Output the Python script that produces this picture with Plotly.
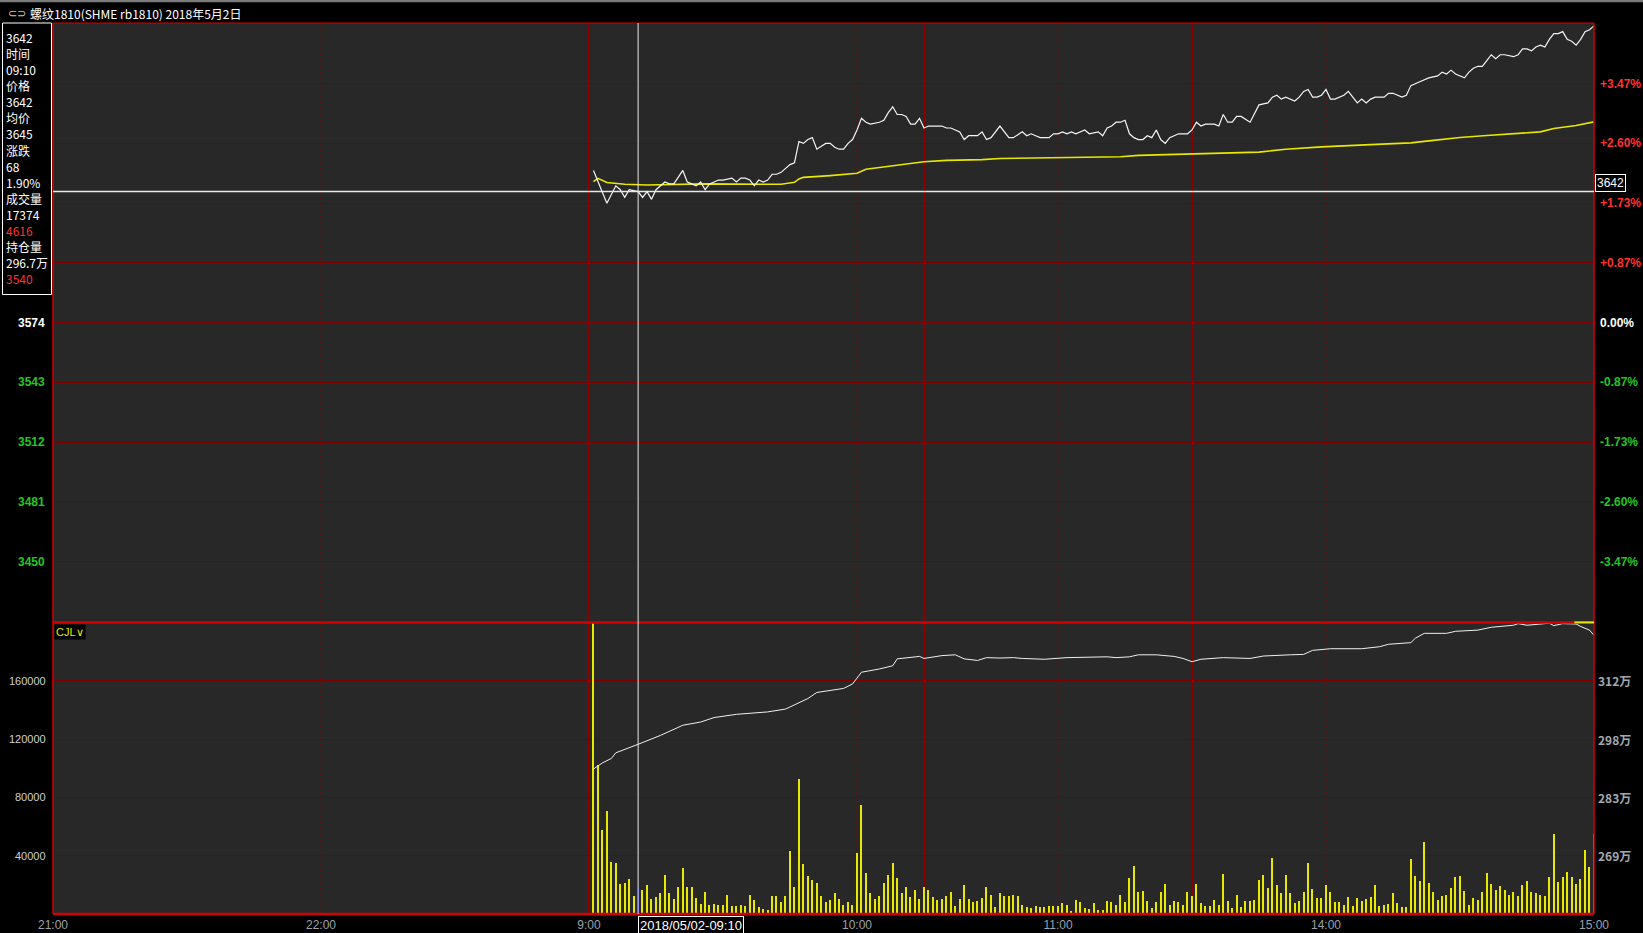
import plotly.graph_objects as go

# ---------------- data ----------------
TITLE_ICON = "⊂⊃"
TITLE_TEXT = "螺纹1810(SHME rb1810) 2018年5月2日"
CURSOR_TEXT = "2018/05/02-09:10"
PREV_SETTLE = 3574
DAY_START = 120          # 9:00 on a minute axis that starts at 21:00
CURSOR_MIN = 11          # 9:10 bar
CURSOR_PRICE = 3642

# last price (minute index after 9:00, price)
price_min = [1, 4, 6, 7, 8, 9, 11, 12, 13, 14, 15, 16, 17, 18, 19, 21, 22, 23, 24, 25, 26, 27, 28, 29, 30,
             32, 33, 34, 35, 36, 37, 38, 39, 40, 41, 42, 43, 44, 45, 46, 47, 48, 49, 50, 51,
             53, 54, 55, 56, 57, 58, 59, 60, 61, 62, 63, 65, 66, 67, 68, 69, 70, 71, 72, 73, 74, 75,
             76, 79, 80, 81, 82, 83, 84, 85, 87, 88, 89, 90, 92, 94, 95, 97, 98, 99, 100, 101,
             103, 104, 105, 106, 107, 108, 109, 111, 112, 114, 115, 116, 117, 118, 119, 120, 121, 122,
             123, 124, 125, 126, 127, 128, 129, 130, 132, 134, 135,
             136, 137, 138, 140, 141, 142, 143, 144, 145, 146, 148, 150, 152, 153, 154, 155, 156,
             158, 159, 160, 161, 162, 163, 164, 165, 166, 167, 169, 170, 171, 172, 173, 174, 175, 176,
             178, 179, 180, 182, 183, 184, 186, 187, 188, 190, 191, 192, 193, 194,
             196, 197, 198, 199, 200, 201, 202, 203, 204, 205,
             207, 208, 209, 210, 211, 212, 213, 214, 215, 216, 217, 218, 219, 220, 221, 222, 223, 224, 225]
price_val = [3653, 3636, 3645, 3643, 3639, 3643, 3642, 3639, 3642, 3638, 3643, 3645, 3647, 3646, 3646,
             3653, 3647, 3646, 3645, 3647, 3643, 3646, 3647, 3648, 3648,
             3649, 3647, 3649, 3649, 3648, 3645, 3648, 3647, 3648, 3651, 3651, 3652, 3654, 3656, 3657,
             3668, 3667, 3669, 3670, 3664,
             3667, 3667, 3665, 3664, 3664, 3667, 3669, 3674, 3680, 3678, 3677,
             3678, 3679, 3683, 3686, 3682, 3682, 3681, 3677, 3677, 3680, 3675,
             3676, 3676, 3675, 3675, 3674, 3673, 3669, 3671, 3671, 3673, 3669, 3670, 3676, 3670, 3670,
             3673, 3671, 3672, 3671, 3670,
             3670, 3672, 3672, 3673, 3672, 3673, 3672, 3674, 3672,
             3673, 3671, 3675, 3676, 3678, 3678, 3679, 3672, 3670, 3669, 3669, 3671, 3670, 3674, 3669,
             3667, 3670, 3672, 3672, 3674,
             3678, 3676, 3677, 3677, 3676, 3682, 3678, 3678, 3681, 3681, 3678, 3687,
             3688, 3691, 3692, 3690, 3691,
             3689, 3691, 3694, 3695, 3691, 3691, 3692, 3695, 3690, 3690,
             3692, 3694, 3691, 3688, 3690, 3688, 3690, 3691,
             3691, 3693, 3693, 3691, 3692, 3697, 3699, 3700, 3701,
             3702, 3704, 3703, 3705, 3703,
             3701, 3704, 3706, 3707, 3707, 3710, 3713, 3711, 3713, 3713,
             3712, 3713, 3716, 3716, 3715, 3717, 3718, 3717, 3721, 3724, 3724, 3725, 3721, 3720, 3718,
             3721, 3725, 3726, 3728]

# average price
avg_min = [1, 2, 4, 8, 13, 21, 26, 43, 46, 47, 48, 54, 60, 62, 66, 71, 75, 80, 88, 92,
           105, 119, 123, 133, 142, 148, 150, 156, 164, 175, 184, 188, 195, 201, 207, 213, 216, 221, 225]
avg_val = [3647.2, 3648.9, 3646.7, 3645.8, 3645.4, 3645.8, 3646.0, 3645.8, 3646.8, 3648.6,
           3649.4, 3650.3, 3651.5, 3653.6, 3654.9, 3656.3, 3657.5, 3658.2, 3658.6, 3659.2,
           3659.8, 3660.1, 3660.8, 3661.5, 3661.8, 3662.3, 3662.5, 3664.0, 3665.2, 3666.4,
           3667.3, 3668.3, 3670.1, 3671.1, 3672.1, 3673.0, 3674.7, 3676.3, 3678.2]

# open interest (万)
oi_min = [1, 3, 5, 6, 11, 16, 21, 25, 28, 33, 40, 44, 49, 51, 57, 59, 61, 65, 68, 69,
          74, 75, 79, 82, 84, 87, 89, 92, 95, 97, 102, 107, 116, 118, 121, 123, 127, 131, 133, 135,
          137, 141, 142, 148, 151, 157, 160, 162, 166, 173, 177, 179, 184, 185, 187, 192, 194, 199, 202, 207,
          208, 210, 214, 215, 216, 218, 221, 222, 224, 225]
oi_val = [290.4, 291.9, 293.0, 294.4, 296.5, 298.7, 301.2, 302.0, 303.1, 303.9,
          304.5, 305.2, 307.8, 309.3, 310.3, 311.4, 314.3, 315.1, 315.9, 317.6,
          318.2, 317.7, 318.4, 318.6, 317.6, 317.2, 317.9, 317.8, 317.9, 317.7,
          317.5, 317.9, 318.1, 317.9, 318.1, 318.6, 318.6, 318.2, 317.7, 316.9,
          317.5, 317.7, 317.9, 317.7, 318.3, 318.6, 318.7, 319.7, 320.1, 320.1,
          320.6, 321.2, 321.6, 322.7, 323.9, 323.9, 324.4, 324.7, 325.4, 325.9,
          326.3, 325.9, 326.2, 326.4, 325.8, 326.3, 326.2, 325.6, 324.7, 323.4]

# volume per minute bar, minutes 1..225 after 9:00
volume = [200000, 101600, 57500, 70600, 35400, 34500, 20000, 20700, 23400, 12000,
          17374, 15900, 19300, 9700, 11500, 14300, 26200, 14300, 9700, 18400,
          31500, 18400, 18400, 10800, 6700, 14900, 6200, 6900, 5700, 6200,
          13100, 5500, 5100, 6200, 5500, 13100, 9000, 4600, 3200, 2800,
          12000, 12400, 7800, 12000, 43000, 18200, 92400, 33800, 25700, 22800,
          21200, 12000, 7800, 9000, 14300, 10300, 6200, 8300, 6200, 41800,
          74500, 27600, 14300, 10300, 12400, 20700, 26200, 34500, 24100, 14300,
          18200, 11300, 15900, 9700, 18200, 15900, 11500, 9000, 9700, 12400,
          14900, 5100, 9700, 19300, 10300, 7800, 8500,
          10600, 18500, 13100, 4300, 13800, 12000, 12000, 13100, 11800, 5700,
          4300, 3600, 5000, 4300, 4300, 5000, 5000, 5000, 7000, 5700,
          1600, 9000, 7700, 3600, 2900, 7000, 2300, 2300, 8400, 7700,
          5700, 13100, 7700, 24200, 32800, 14500, 15800, 8400, 3600, 7700,
          14500, 20600, 5700, 8400, 7700, 5700, 15100, 11800, 20600, 7000,
          5000, 5000, 9000, 5700, 27300, 8400, 3600, 13100, 4300, 8400,
          8400, 9000, 23300, 26700, 17900, 38200, 19900, 13800, 26700, 13800,
          7000, 8400, 14500, 34800, 17200, 10400, 10400, 19900, 15100, 7700,
          7700, 5700, 11100, 5000, 10400, 8400, 9700, 11100, 19900, 5000,
          5700, 6300, 13800, 7000, 4300, 4300, 37500, 26000, 22600, 49000,
          21200, 14500, 9000, 11800, 13100, 17900, 25300, 26000, 15800, 5700,
          10400, 9000, 15100, 28000, 20600, 16500, 19200, 16500, 13100, 14500,
          12400, 19900, 22600, 14500, 13800, 13100, 12400, 25300, 54500, 21900,
          25300, 28700, 25300, 20600, 24000, 43600, 32100, 54500]

time_tick_vals = [0, 60, 120, 180, 225, 285, 345]
time_tick_text = ["21:00", "22:00", "9:00", "10:00", "11:00", "14:00", "15:00"]
session_lines = [120, 195, 255]
hour_lines = [60, 180, 225, 285]

price_grid = [3450, 3481, 3512, 3543, 3574, 3605, 3636, 3667, 3698]
price_left_text = ["3450", "3481", "3512", "3543", "3574"]
pct_text = ["-3.47%", "-2.60%", "-1.73%", "-0.87%", "0.00%", "+0.87%", "+1.73%", "+2.60%", "+3.47%"]
vol_grid = [40000, 80000, 120000, 160000]
vol_text = ["40000", "80000", "120000", "160000"]
oi_grid = [269.0, 283.4, 297.8, 312.2]
oi_text = ["269万", "283万", "298万", "312万"]

info_lines = ["3642", "时间", "09:10", "价格", "3642", "均价", "3645", "涨跌", "68", "1.90%",
              "成交量", "17374", "4616", "持仓量", "296.7万", "3540"]
info_red = {"4616", "3540"}

assert len(price_min) == len(price_val)
assert len(avg_min) == len(avg_val)
assert len(oi_min) == len(oi_val)
assert len(volume) == 225

# ---------------- layout constants ----------------
W, H = 1643, 933
L, R, T, B = 53, 49, 23, 19
PW, PH = W - L - R, H - T - B
VOL_TOP = (H - B - 622.4) / PH

def px(x):
    return (x - L) / PW

def py(y):
    return (H - B - y) / PH

BG = "#282828"
GRID = "#7c0000"
BORDER = "#d40000"
YELLOW = "#e8e800"
GREEN = "#22c522"
RED = "#ff3232"
FONT = "Liberation Sans"
CJK = "Noto Sans CJK SC"

fig = go.Figure()

bar_x = [DAY_START + m for m in range(1, len(volume) + 1)]
bar_colors = ["#1a1aff" if m == CURSOR_MIN else YELLOW for m in range(1, len(volume) + 1)]
fig.add_trace(go.Bar(x=bar_x, y=volume, width=0.28, marker=dict(color=bar_colors, line=dict(width=0)),
                     xaxis="x", yaxis="y2", hoverinfo="skip"))
fig.add_trace(go.Scatter(x=[DAY_START + m for m in oi_min], y=oi_val, mode="lines",
                         line=dict(color="#f0f0f0", width=1), xaxis="x", yaxis="y3", hoverinfo="skip"))
fig.add_trace(go.Scatter(x=[DAY_START + m for m in avg_min], y=avg_val, mode="lines",
                         line=dict(color=YELLOW, width=1.6), xaxis="x", yaxis="y", hoverinfo="skip"))
fig.add_trace(go.Scatter(x=[DAY_START + m for m in price_min], y=price_val, mode="lines",
                         line=dict(color="#f4f4f4", width=1.2), xaxis="x", yaxis="y", hoverinfo="skip"))

step = PREV_SETTLE * 0.0087 * 5
fig.update_layout(
    width=W, height=H, margin=dict(l=L, r=R, t=T, b=B, autoexpand=False),
    paper_bgcolor="black", plot_bgcolor=BG, showlegend=False, bargap=0,
    font=dict(family=FONT, size=12, color="white"),
    xaxis=dict(domain=[0, 1], range=[0, 345], anchor="y2", showgrid=False, zeroline=False, automargin=False,
               tickvals=time_tick_vals, ticktext=time_tick_text, ticks="", showline=False,
               tickfont=dict(family=FONT, size=12, color="#9aa3ac"), ticklabelstandoff=2),
    yaxis=dict(domain=[VOL_TOP, 1], range=[PREV_SETTLE - step, PREV_SETTLE + step], anchor="x",
               tickvals=price_grid, showticklabels=False, showgrid=True, gridcolor=GRID, gridwidth=1,
               zeroline=False, ticks="", automargin=False),
    yaxis2=dict(domain=[0, VOL_TOP], range=[0, 200000], anchor="x", tickvals=vol_grid, automargin=False,
                showticklabels=False, showgrid=True, gridcolor=GRID, gridwidth=1, zeroline=False, ticks=""),
    yaxis3=dict(overlaying="y2", range=[254.6, 326.6], side="right", anchor="x", visible=False,
                showgrid=False, zeroline=False, automargin=False),
)

shapes = []
# session boundaries (solid) and hour lines (dotted)
for xv in session_lines:
    shapes.append(dict(type="line", xref="x", yref="paper", x0=xv, x1=xv, y0=0, y1=1,
                       line=dict(color="#8a0000", width=2), layer="below"))
for xv in hour_lines:
    shapes.append(dict(type="line", xref="x", yref="paper", x0=xv, x1=xv, y0=0, y1=1,
                       line=dict(color="#8a0000", width=1, dash="dot"), layer="below"))
# previous settlement line
shapes.append(dict(type="line", xref="paper", yref="y", x0=0, x1=1, y0=PREV_SETTLE, y1=PREV_SETTLE,
                   line=dict(color="#900000", width=2.5), layer="below"))
# frame
shapes += [
    dict(type="line", xref="paper", yref="paper", x0=0, x1=1, y0=1, y1=1, line=dict(color=BORDER, width=1)),
    dict(type="line", xref="paper", yref="paper", x0=0, x1=1, y0=VOL_TOP, y1=VOL_TOP, line=dict(color=BORDER, width=2.5)),
    dict(type="line", xref="paper", yref="paper", x0=0, x1=1, y0=0, y1=0, line=dict(color=BORDER, width=2.5)),
    dict(type="line", xref="paper", yref="paper", x0=0, x1=0, y0=0, y1=1, line=dict(color=BORDER, width=1.5)),
    dict(type="line", xref="paper", yref="paper", x0=1, x1=1, y0=0, y1=1, line=dict(color=BORDER, width=1.5)),
]
# small yellow mark at top right of volume panel
shapes.append(dict(type="line", xref="x", yref="paper", x0=DAY_START + 220.6, x1=345, y0=VOL_TOP, y1=VOL_TOP,
                   line=dict(color=YELLOW, width=2)))
# crosshair
shapes.append(dict(type="line", xref="x", yref="paper", x0=DAY_START + CURSOR_MIN, x1=DAY_START + CURSOR_MIN,
                   y0=0, y1=1, line=dict(color="#e8e8e8", width=1)))
shapes.append(dict(type="line", xref="paper", yref="y", x0=0, x1=1, y0=CURSOR_PRICE, y1=CURSOR_PRICE,
                   line=dict(color="#e8e8e8", width=1.5)))
# top grey strip and info box
shapes.append(dict(type="line", xref="paper", yref="paper", x0=px(0), x1=px(W), y0=py(1), y1=py(1),
                   line=dict(color="#7a7a7a", width=2.5)))
shapes.append(dict(type="rect", xref="paper", yref="paper", x0=px(2.5), x1=px(51.5), y0=py(294.5), y1=py(23),
                   line=dict(color="white", width=1), fillcolor="black"))
fig.update_layout(shapes=shapes)

ann = []
# title
ann.append(dict(xref="paper", yref="paper", x=px(6), y=py(13.5), xanchor="left", yanchor="middle",
                text=TITLE_ICON, showarrow=False, font=dict(family=FONT, size=11, color="#c8c8c8")))
ann.append(dict(xref="paper", yref="paper", x=px(28), y=py(13.5), xanchor="left", yanchor="middle",
                text=TITLE_TEXT, showarrow=False, font=dict(family=CJK, size=12, color="white")))
# info panel
for i, t in enumerate(info_lines):
    ann.append(dict(xref="paper", yref="paper", x=px(3.5), y=py(37.3 + 16.1 * i), xanchor="left",
                    yanchor="middle", text=t, showarrow=False,
                    font=dict(family=CJK, size=12, color=RED if t in info_red else "white")))
# right % labels
for v, t in zip(price_grid, pct_text):
    col = RED if t.startswith("+") else (GREEN if t.startswith("-") else "white")
    ann.append(dict(xref="paper", yref="y", x=1, y=v, xanchor="left", yanchor="middle", xshift=4,
                    text="<b>" + t + "</b>", showarrow=False, font=dict(family=FONT, size=12, color=col)))
# left price labels
for v, t in zip(price_grid, price_left_text):
    col = "white" if v == PREV_SETTLE else GREEN
    ann.append(dict(xref="paper", yref="y", x=0, y=v, xanchor="right", yanchor="middle", xshift=-6,
                    text="<b>" + t + "</b>", showarrow=False, font=dict(family=FONT, size=12, color=col)))
# volume labels
for v, t in zip(vol_grid, vol_text):
    ann.append(dict(xref="paper", yref="y2", x=0, y=v, xanchor="right", yanchor="middle", xshift=-5,
                    text=t, showarrow=False, font=dict(family=FONT, size=11, color="#d0d0d0")))
for v, t in zip(oi_grid, oi_text):
    ann.append(dict(xref="paper", yref="y3", x=1, y=v, xanchor="left", yanchor="middle", xshift=2,
                    text="<b>" + t + "</b>", showarrow=False, font=dict(family=CJK, size=12, color="#a3a8ae")))
# CJL tag
ann.append(dict(xref="paper", yref="paper", x=0, y=VOL_TOP, xanchor="left", yanchor="top", xshift=1, yshift=-2,
                text="CJL∨", showarrow=False, bgcolor="black", font=dict(family=FONT, size=11, color=YELLOW)))
# current price tag on right
ann.append(dict(xref="paper", yref="y", x=1, y=CURSOR_PRICE, xanchor="left", yanchor="bottom", xshift=1,
                text=str(CURSOR_PRICE), showarrow=False, bgcolor="black", bordercolor="white", borderwidth=1,
                borderpad=1, font=dict(family=FONT, size=12, color="white")))
# cursor time tag
ann.append(dict(xref="x", yref="paper", x=DAY_START + CURSOR_MIN, y=0, xanchor="left", yanchor="top", yshift=-2,
                text=CURSOR_TEXT, showarrow=False, bgcolor="black", bordercolor="white", borderwidth=1,
                borderpad=1, font=dict(family=FONT, size=13, color="white")))
fig.update_layout(annotations=ann)

fig.write_html("out.html", config={"displayModeBar": False},
               post_script="document.body.style.margin='0';document.body.style.background='#000';")
